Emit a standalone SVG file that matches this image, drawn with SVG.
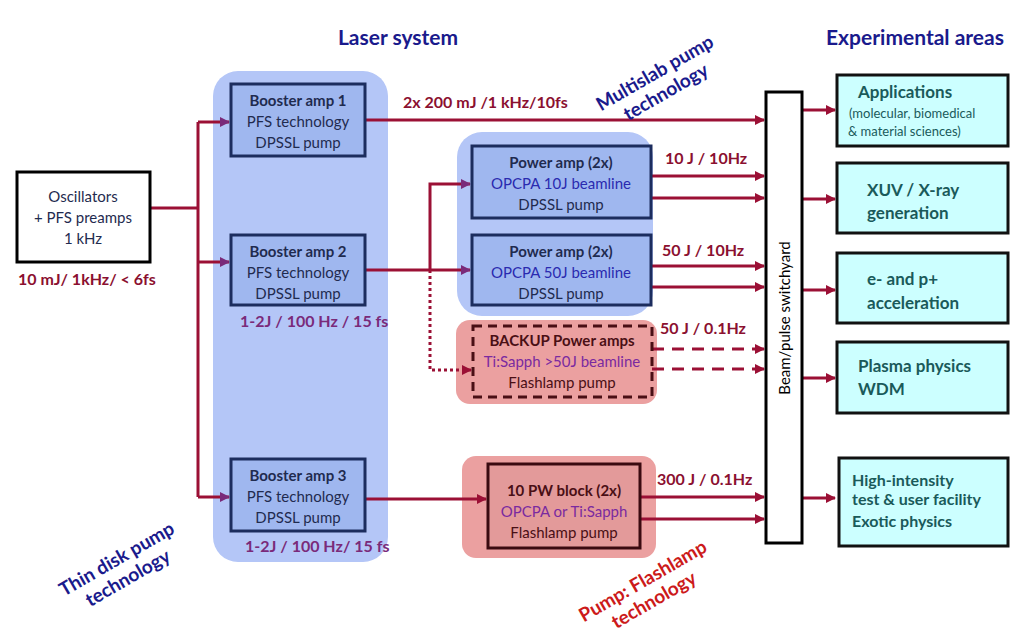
<svg xmlns="http://www.w3.org/2000/svg" width="1024" height="636" viewBox="0 0 1024 636">
<defs>
<marker id="ar" markerWidth="10" markerHeight="10" refX="9" refY="5" orient="auto" markerUnits="userSpaceOnUse"><path d="M0,0 L10,5 L0,10 z" fill="#9b1035"/></marker>
<marker id="ap" markerWidth="10" markerHeight="10" refX="9" refY="5" orient="auto" markerUnits="userSpaceOnUse"><path d="M0,0 L10,5 L0,10 z" fill="#7a2a7a"/></marker>
<style>
text{font-family:Lato,"Open Sans","Liberation Sans",sans-serif;text-anchor:middle}
.t{font-size:15px;fill:#1f2b4f}
.b{font-weight:bold}
.h{font-size:21px;font-weight:bold;fill:#1a1a8c}
.bx{fill:#9fb7ef;stroke:#1c2d5e;stroke-width:3}
.wx{fill:#fff;stroke:#000;stroke-width:3}
.cx{fill:#ccffff;stroke:#111;stroke-width:3}
.ct{font-size:17px;font-weight:bold;fill:#1a5a5a;text-anchor:start}
.l{stroke:#9b1035;stroke-width:3;fill:none}
.lab{font-size:16px;font-weight:bold;fill:#8b1030;text-anchor:start}
.pl{font-size:16px;font-weight:bold;fill:#7a2a7a;text-anchor:start}
.rot{font-size:19px;font-weight:bold;fill:#1a1a8c}
.blu{fill:#2a2ab0}
.pur{fill:#7a2aa0}
.dk{fill:#4a0f15}
.red{fill:#cc1a1a}
.blk{fill:#000}
</style>
</defs>
<rect width="1024" height="636" fill="#fff"/>
<text class="h" x="398" y="45">Laser system</text>
<text class="h" x="915" y="45">Experimental areas</text>
<rect x="213" y="71" width="175" height="491" rx="25" fill="#b4c6f7"/>
<rect x="457" y="132" width="196" height="184" rx="25" fill="#b4c6f7"/>
<rect x="456" y="320" width="201" height="84" rx="14" fill="#eba0a0"/>
<rect x="462" y="456" width="194" height="102" rx="14" fill="#eba0a0"/>
<g id="connectors">
<path class="l" d="M150,208 H198 M198,122 V497"/>
<path class="l" d="M198,122 H229" marker-end="url(#ap)"/>
<path class="l" d="M198,262 H229" marker-end="url(#ap)"/>
<path class="l" d="M198,497 H229" marker-end="url(#ap)"/>
<path class="l" d="M365,120 H764" marker-end="url(#ar)"/>
<path class="l" d="M365,270 H470" marker-end="url(#ap)"/>
<path class="l" d="M430,270 V184 H470" marker-end="url(#ap)"/>
<path class="l" d="M430,270 V370 H471" stroke-dasharray="3,3" marker-end="url(#ar)"/>
<path class="l" d="M651,176 H764" marker-end="url(#ar)"/>
<path class="l" d="M651,198 H764" marker-end="url(#ar)"/>
<path class="l" d="M651,266 H764" marker-end="url(#ar)"/>
<path class="l" d="M651,287 H764" marker-end="url(#ar)"/>
<path class="l" d="M652,349 H764" stroke-dasharray="12,8" marker-end="url(#ar)"/>
<path class="l" d="M652,369 H764" stroke-dasharray="12,8" marker-end="url(#ar)"/>
<path class="l" d="M365,499 H486" marker-end="url(#ar)"/>
<path class="l" d="M640,497 H764" marker-end="url(#ar)"/>
<path class="l" d="M640,519 H764" marker-end="url(#ar)"/>
<path class="l" d="M802,110 H835" marker-end="url(#ar)"/>
<path class="l" d="M802,199 H835" marker-end="url(#ar)"/>
<path class="l" d="M802,290 H835" marker-end="url(#ar)"/>
<path class="l" d="M802,378 H835" marker-end="url(#ar)"/>
<path class="l" d="M802,498 H835" marker-end="url(#ar)"/>
</g>
<g id="osc"><rect class="wx" x="17" y="172" width="133" height="90"/>
<text class="t" x="83" y="202">Oscillators</text><text class="t" x="83" y="223">+ PFS preamps</text><text class="t" x="83" y="244">1 kHz</text></g>
<text class="lab" x="18" y="285">10 mJ/ 1kHz/ &lt; 6fs</text>
<g id="b1"><rect class="bx" x="231" y="84" width="134" height="72"/>
<text class="t b" x="298" y="106">Booster amp 1</text><text class="t" x="298" y="127">PFS technology</text><text class="t" x="298" y="148">DPSSL pump</text></g>
<g id="b2"><rect class="bx" x="231" y="235" width="134" height="70"/>
<text class="t b" x="298" y="257">Booster amp 2</text><text class="t" x="298" y="278">PFS technology</text><text class="t" x="298" y="299">DPSSL pump</text></g>
<g id="b3"><rect class="bx" x="231" y="459" width="134" height="72"/>
<text class="t b" x="298" y="481">Booster amp 3</text><text class="t" x="298" y="502">PFS technology</text><text class="t" x="298" y="523">DPSSL pump</text></g>
<text class="pl" x="240" y="327">1-2J / 100 Hz / 15 fs</text>
<text class="pl" x="245" y="552">1-2J / 100 Hz/ 15 fs</text>
<g id="p1"><rect class="bx" x="472" y="146" width="179" height="72"/>
<text class="t b" x="561" y="168">Power amp  (2x)</text><text class="t blu" x="561" y="189">OPCPA 10J beamline</text><text class="t" x="561" y="210">DPSSL pump</text></g>
<g id="p2"><rect class="bx" x="472" y="235" width="179" height="70"/>
<text class="t b" x="561" y="257">Power amp  (2x)</text><text class="t blu" x="561" y="278">OPCPA 50J beamline</text><text class="t" x="561" y="299">DPSSL pump</text></g>
<g id="bk"><rect x="473" y="326" width="179" height="71" fill="none" stroke="#4a0f15" stroke-width="3" stroke-dasharray="9,6"/>
<text class="t b dk" x="562" y="346">BACKUP Power amps</text><text class="t pur" x="562" y="367">Ti:Sapph &gt;50J beamline</text><text class="t dk" x="562" y="388">Flashlamp pump</text></g>
<g id="pw"><rect x="488" y="464" width="152" height="84" fill="#e39a9a" stroke="#3a0a10" stroke-width="3"/>
<text class="t b dk" x="564" y="496">10 PW block (2x)</text><text class="t pur" x="564" y="517">OPCPA or Ti:Sapph</text><text class="t dk" x="564" y="538">Flashlamp pump</text></g>
<text class="lab" x="403" y="108">2x 200 mJ /1 kHz/10fs</text>
<text class="lab" x="665" y="164">10 J / 10Hz</text>
<text class="lab" x="662" y="256">50 J / 10Hz</text>
<text class="lab" x="660" y="334">50 J / 0.1Hz</text>
<text class="lab" x="657" y="485">300 J / 0.1Hz</text>
<g id="sw"><rect class="wx" x="766" y="92" width="36" height="451"/>
<text class="t blk" transform="translate(790,318) rotate(-90)">Beam/pulse switchyard</text></g>
<g id="e1"><rect class="cx" x="837" y="75" width="171" height="71"/>
<text class="ct" x="858" y="98">Applications</text><text x="849" y="118" style="font-size:13px;fill:#1a5a5a;text-anchor:start">(molecular, biomedical</text><text x="848" y="136" style="font-size:13px;fill:#1a5a5a;text-anchor:start">&amp; material sciences)</text></g>
<g id="e2"><rect class="cx" x="837" y="163" width="171" height="70"/>
<text class="ct" x="867" y="196">XUV / X-ray</text><text class="ct" x="867" y="219">generation</text></g>
<g id="e3"><rect class="cx" x="837" y="253" width="171" height="70"/>
<text class="ct" x="867" y="285">e- and p+</text><text class="ct" x="867" y="309">acceleration</text></g>
<g id="e4"><rect class="cx" x="837" y="342" width="171" height="71"/>
<text class="ct" x="858" y="372">Plasma physics</text><text class="ct" x="858" y="395">WDM</text></g>
<g id="e5"><rect class="cx" x="839" y="458" width="169" height="88"/>
<text class="ct" x="852" y="486" style="font-size:16px">High-intensity</text><text class="ct" x="852" y="505" style="font-size:16px">test &amp; user facility</text><text class="ct" x="852" y="527" style="font-size:16px">Exotic physics</text></g>
<g transform="translate(660,82) rotate(-30)"><text class="rot" x="0" y="-4">Multislab pump</text><text class="rot" x="0" y="18">technology</text></g>
<g transform="translate(122,568) rotate(-30)"><text class="rot" x="0" y="-4">Thin disk pump</text><text class="rot" x="0" y="18">technology</text></g>
<g transform="translate(648,590) rotate(-30)"><text class="rot red" x="0" y="-4">Pump:  Flashlamp</text><text class="rot red" x="0" y="18">technology</text></g>
</svg>
